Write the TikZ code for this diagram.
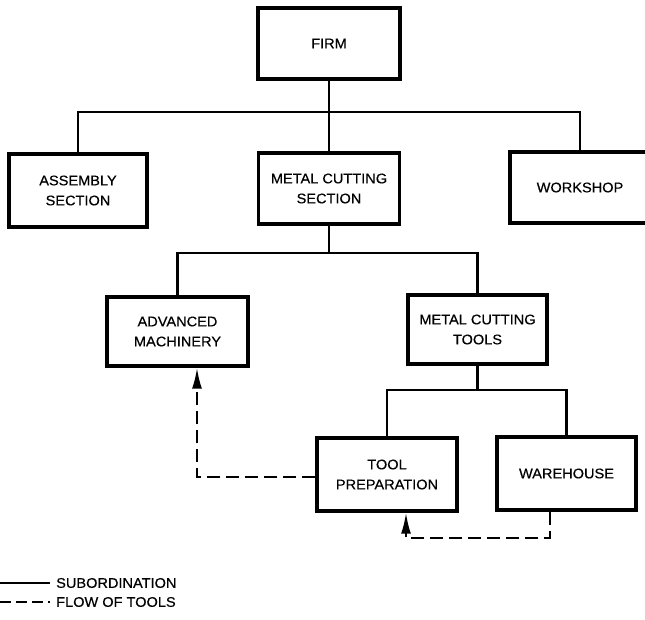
\documentclass[tikz,border=0pt]{standalone}
\usepackage{fontspec}
\setmainfont{Liberation Sans}[FakeStretch=1.04, FakeBold=0.4]
\usetikzlibrary{arrows.meta}
\tikzset{
  orgbox/.style={draw, line width=3.4pt, align=center, inner sep=0pt,
    font=\fontsize{14}{20}\selectfont},
  sub/.style={line width=2.3pt},
  flow/.style={line width=2.2pt, dash pattern=on 13pt off 6pt},
  flowtip/.style={-{Latex[length=21pt,width=10pt]}},
  legendtext/.style={anchor=west, inner sep=0pt, font=\fontsize{14}{16}\selectfont}
}
\begin{document}
\begin{tikzpicture}[x=1pt,y=-1pt]
\clip (0,0) rectangle (645,619);
\fill[white] (0,0) rectangle (645,619);
% boxes
\node[orgbox, minimum width=142pt, minimum height=71pt] (firm) at (329,43.5) {FIRM};
\node[orgbox, minimum width=138pt, minimum height=73pt] (asm) at (78,190.5) {ASSEMBLY\\SECTION};
\node[orgbox, minimum width=141pt, minimum height=71pt] (mcs) at (329,188.5) {METAL CUTTING\\SECTION};
\node[orgbox, minimum width=140pt, minimum height=71pt] (ws) at (580,187.5) {WORKSHOP};
\node[orgbox, minimum width=141pt, minimum height=69pt] (am) at (177.5,331.5) {ADVANCED\\MACHINERY};
\node[orgbox, minimum width=139pt, minimum height=69pt] (mct) at (477.5,329.5) {METAL CUTTING\\TOOLS};
\node[orgbox, minimum width=140pt, minimum height=73pt] (tp) at (387,474.5) {TOOL\\PREPARATION};
\node[orgbox, minimum width=139pt, minimum height=73pt] (wh) at (566.5,473.5) {WAREHOUSE};
% bus coordinates
\coordinate (bus1) at (329,112);
\coordinate (bus2) at (329,253);
\coordinate (bus3) at (477.5,390);
% subordination
\draw[sub] (firm.south) -- (mcs.north);
\draw[sub] (asm.north) |- (bus1) -| (ws.north);
\draw[sub] (mcs.south) -- (bus2);
\draw[sub] (am.north) |- (bus2) -| (mct.north);
\draw[sub] (mct.south) -- (bus3);
\draw[sub] (tp.north) |- (bus3) -| (wh.north);
% flow of tools
\coordinate (c1) at (197,477);
\coordinate (c2) at (550,538);
\coordinate (c3) at (406,538);
\draw[flow, flowtip] (tp.west |- c1) -- (c1) -- (c1 |- am.south);
\draw[flow, flowtip] (c2 |- wh.south) -- (c2) -- (c3) -- (c3 |- tp.south);
% legend
\coordinate (l1a) at (0,583);
\coordinate (l1b) at (50,583);
\coordinate (l2a) at (0,602);
\coordinate (l2b) at (50,602);
\draw[line width=1.8pt] (l1a) -- (l1b);
\draw[line width=1.8pt, dash pattern=on 11pt off 5pt] (l2a) -- (l2b);
\node[legendtext] (lt1) at (56,583) {SUBORDINATION};
\node[legendtext] (lt2) at (56,602) {FLOW OF TOOLS};
\end{tikzpicture}
\end{document}
